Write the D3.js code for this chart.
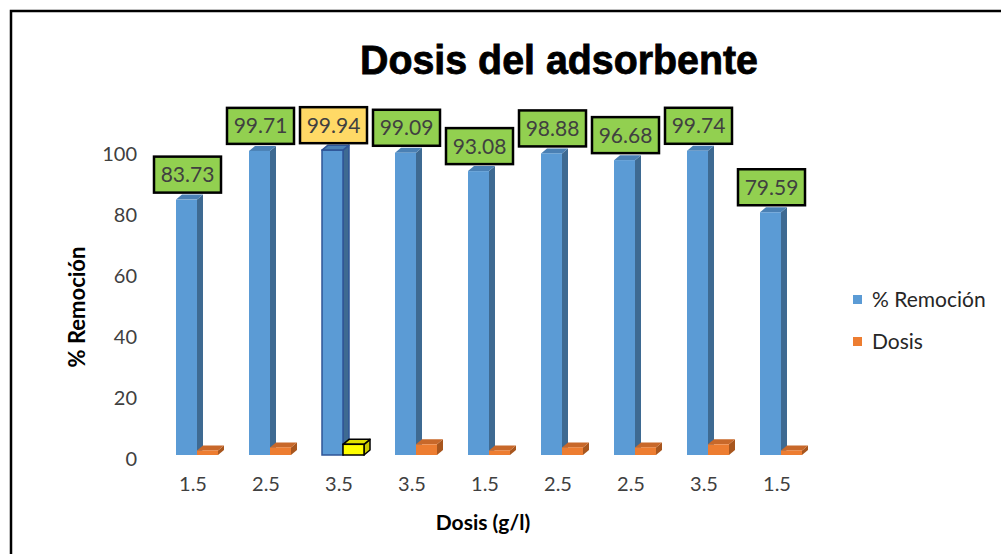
<!DOCTYPE html>
<html><head><meta charset="utf-8">
<script src="https://cdn.jsdelivr.net/npm/d3@7"></script>
<style>body{margin:0;background:#fff;}svg{display:block;}</style>
</head><body>
<svg id="chart" width="1001" height="554"></svg>
<script>
const categories = ["1.5","2.5","3.5","3.5","1.5","2.5","2.5","3.5","1.5"];
const remocion = [83.73, 99.71, 99.94, 99.09, 93.08, 98.88, 96.68, 99.74, 79.59];
const dosis = [1.5, 2.5, 3.5, 3.5, 1.5, 2.5, 2.5, 3.5, 1.5];
const yTicks = [0, 20, 40, 60, 80, 100];
const seriesNames = ["% Remoción", "Dosis"];

const svg = d3.select("#chart");
const W = 1001, H = 554;
svg.append("rect").attr("width", W).attr("height", H).attr("fill", "#fff");
// outer border (extends beyond right/bottom)
svg.append("rect").attr("x", 11).attr("y", 11).attr("width", 1010).attr("height", 560)
  .attr("fill", "none").attr("stroke", "#000").attr("stroke-width", 2.5);

const idx = d3.range(categories.length);
const x = d3.scaleBand().domain(idx).range([156.5, 156.5 + 73 * 9]).paddingInner(0).paddingOuter(0);
const y = d3.scaleLinear().domain([0, 100]).range([455, 150]);

const fontSans = "Lato, 'Open Sans', sans-serif";
const dx = 6, dy = -5, bw = 21;

function bar3d(g, x0, v, colors, stroke, sw) {
  const top = y(v), bot = y(0);
  g.append("path").attr("d", `M${x0+bw},${top} L${x0+bw+dx},${top+dy} L${x0+bw+dx},${bot+dy} L${x0+bw},${bot} Z`)
    .attr("fill", colors[1]).attr("stroke", stroke || "none").attr("stroke-width", sw || 0).attr("stroke-linejoin","round");
  g.append("path").attr("d", `M${x0},${top} L${x0+dx},${top+dy} L${x0+bw+dx},${top+dy} L${x0+bw},${top} Z`)
    .attr("fill", colors[2]).attr("stroke", stroke || "none").attr("stroke-width", sw || 0).attr("stroke-linejoin","round");
  g.append("rect").attr("x", x0).attr("y", top).attr("width", bw).attr("height", bot - top)
    .attr("fill", colors[0]).attr("stroke", stroke || "none").attr("stroke-width", sw || 0);
}

const blue = ["#5B9BD5", "#3E6A92", "#4A80B4"];
const orange = ["#ED7D31", "#A8561E", "#C8682A"];
const yellow = ["#FFFF00", "#C8C800", "#E0E000"];

const gBars = svg.append("g");
idx.forEach(i => {
  const c = x(i) + x.bandwidth() / 2;
  const bx = c - 17;
  bar3d(gBars, bx, remocion[i], blue, i === 2 ? "#2F5597" : null, i === 2 ? 1.5 : 0);
  const ox = c + 4;
  if (i === 2) bar3d(gBars, ox, dosis[i], yellow, "#000", 1.5);
  else bar3d(gBars, ox, dosis[i], orange);
});

// data labels
const gLab = svg.append("g");
idx.forEach(i => {
  const c = x(i) + x.bandwidth() / 2;
  const cx = c - 17 + bw / 2 + 1;
  const bottom = y(remocion[i]) - 7;
  const bwid = 67, bh = 36;
  gLab.append("rect").attr("x", cx - bwid / 2).attr("y", bottom - bh).attr("width", bwid).attr("height", bh)
    .attr("fill", i === 2 ? "#FFD966" : "#92D050").attr("stroke", "#000").attr("stroke-width", 2.5);
  gLab.append("text").attr("x", cx).attr("y", bottom - bh / 2).attr("dy", "0.36em")
    .attr("text-anchor", "middle").attr("font-family", fontSans).attr("font-size", 21)
    .attr("fill", "#404040").text(remocion[i].toFixed(2));
});

// y axis
const yAxis = svg.append("g").attr("transform", "translate(137,4)")
  .call(d3.axisLeft(y).tickValues(yTicks).tickSize(0).tickPadding(0));
yAxis.select(".domain").remove();
yAxis.selectAll("text").attr("font-family", fontSans).attr("font-size", 20).attr("fill", "#404040");

// x axis
const xAxis = svg.append("g").attr("transform", "translate(0,477)")
  .call(d3.axisBottom(x).tickFormat(i => categories[i]).tickSize(0).tickPadding(0));
xAxis.select(".domain").remove();
xAxis.selectAll("text").attr("font-family", fontSans).attr("font-size", 20).attr("fill", "#404040");

// titles
svg.append("text").attr("x", 559).attr("y", 74).attr("text-anchor", "middle")
  .attr("font-family", "'Liberation Sans', Arial, sans-serif").attr("font-weight", "bold")
  .attr("font-size", 40).attr("textLength", 398).attr("lengthAdjust", "spacingAndGlyphs")
  .attr("stroke", "#000").attr("stroke-width", 0.8)
  .attr("fill", "#000").text("Dosis del adsorbente");
svg.append("text").attr("transform", "translate(85,307) rotate(-90)").attr("text-anchor", "middle")
  .attr("font-family", fontSans).attr("font-weight", "bold").attr("font-size", 22).attr("fill", "#000")
  .text("% Remoción");
svg.append("text").attr("x", 483).attr("y", 530).attr("text-anchor", "middle")
  .attr("font-family", fontSans).attr("font-weight", "bold").attr("font-size", 21).attr("fill", "#000")
  .text("Dosis (g/l)");

// legend
const leg = svg.append("g");
[["% Remoción", "#5B9BD5", 300], ["Dosis", "#ED7D31", 342]].forEach(([t, col, ly]) => {
  leg.append("rect").attr("x", 853).attr("y", ly - 5).attr("width", 9).attr("height", 9).attr("fill", col);
  leg.append("text").attr("x", 872).attr("y", ly).attr("dy", "0.35em").attr("font-family", fontSans)
    .attr("font-size", 21).attr("fill", "#262626").text(t);
});
</script>
</body></html>
